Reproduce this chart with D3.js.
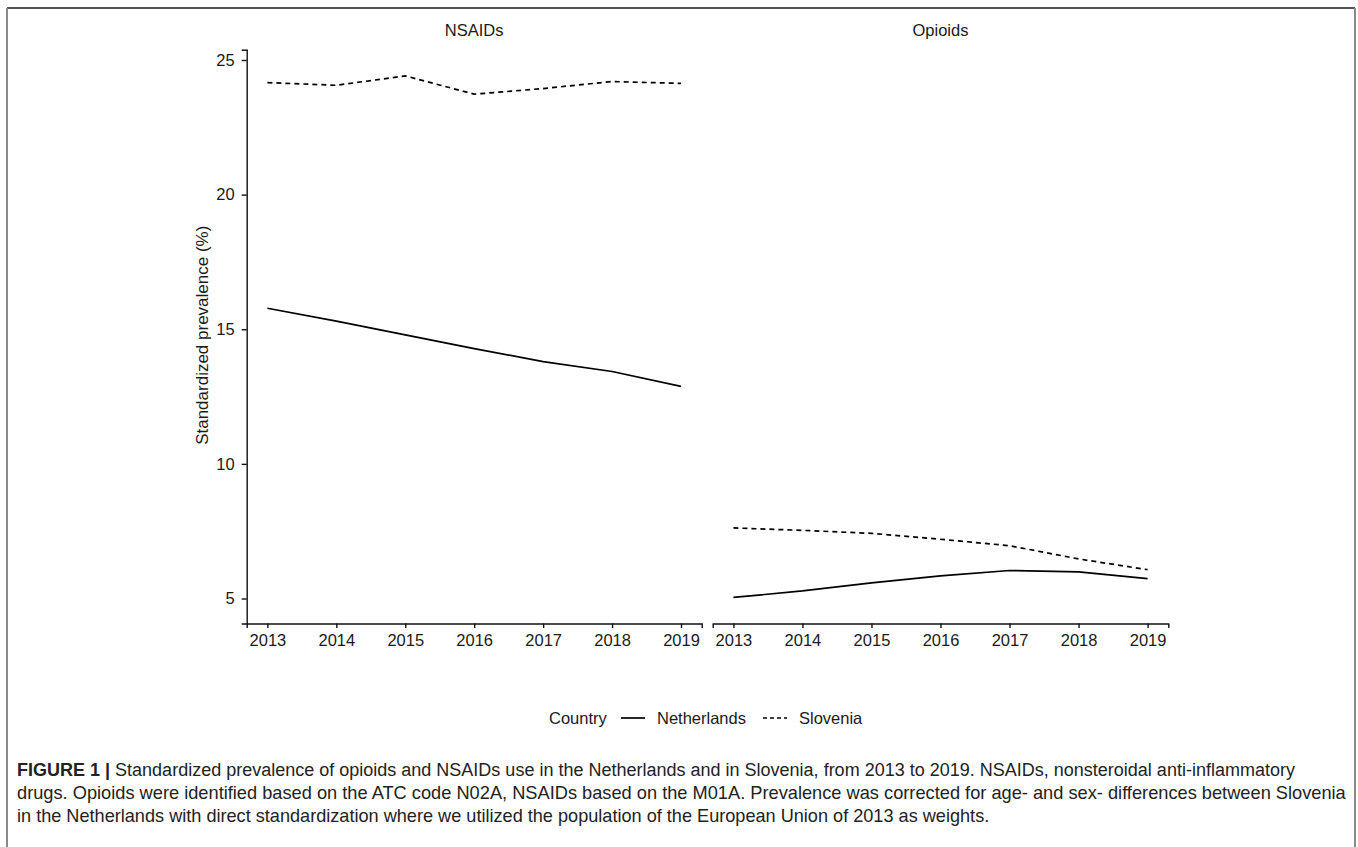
<!DOCTYPE html>
<html>
<head>
<meta charset="utf-8">
<script src="https://cdn.jsdelivr.net/npm/d3@7"></script>
<style>
  html, body { margin: 0; padding: 0; background: #fff; }
  svg { display: block; }
  text { font-family: "Liberation Sans", Arial, Helvetica, sans-serif; fill: #1a1a1a; }
  .cap { font-family: "Liberation Sans", Arial, sans-serif; fill: #222; }
</style>
</head>
<body>
<script>
// ---- data ----
const years = [2013, 2014, 2015, 2016, 2017, 2018, 2019];
const panels = ["NSAIDs", "Opioids"];
const countries = ["Netherlands", "Slovenia"];
const nsaidNetherlands = [15.78, 15.30, 14.79, 14.28, 13.80, 13.43, 12.88];
const nsaidSlovenia    = [24.16, 24.06, 24.41, 23.73, 23.94, 24.20, 24.13];
const opioidNetherlands = [5.04, 5.28, 5.58, 5.84, 6.04, 5.99, 5.74];
const opioidSlovenia    = [7.62, 7.53, 7.42, 7.20, 6.96, 6.47, 6.07];
const yTicks = [5, 10, 15, 20, 25];
const yTitle = "Standardized prevalence (%)";
const legendTitle = "Country";
const captionBold = "FIGURE 1 | ";
const captionLines = [
  "Standardized prevalence of opioids and NSAIDs use in the Netherlands and in Slovenia, from 2013 to 2019. NSAIDs, nonsteroidal anti-inflammatory",
  "drugs. Opioids were identified based on the ATC code N02A, NSAIDs based on the M01A. Prevalence was corrected for age- and sex- differences between Slovenia",
  "in the Netherlands with direct standardization where we utilized the population of the European Union of 2013 as weights."
];

const seriesByPanel = {
  "NSAIDs": { "Netherlands": nsaidNetherlands, "Slovenia": nsaidSlovenia },
  "Opioids": { "Netherlands": opioidNetherlands, "Slovenia": opioidSlovenia }
};

const W = 1358, H = 847;
const svg = d3.select("body").append("svg").attr("width", W).attr("height", H);

// outer frame
svg.append("line").attr("x1", 7).attr("x2", 1355).attr("y1", 8).attr("y2", 8)
  .attr("stroke", "#555").attr("stroke-width", 2);
svg.append("line").attr("x1", 7).attr("x2", 7).attr("y1", 8).attr("y2", H)
  .attr("stroke", "#8a8a8a").attr("stroke-width", 2);
svg.append("line").attr("x1", 1355).attr("x2", 1355).attr("y1", 8).attr("y2", H)
  .attr("stroke", "#8a8a8a").attr("stroke-width", 2);

// y scale with ggplot-like 5% expansion
const allVals = [].concat(nsaidNetherlands, nsaidSlovenia, opioidNetherlands, opioidSlovenia);
const yMin = d3.min(allVals), yMax = d3.max(allVals);
const pad = (yMax - yMin) * 0.05;
const y = d3.scaleLinear().domain([yMin - pad, yMax + pad]).range([623.5, 49.8]);

const xPad = (d3.max(years) - d3.min(years)) * 0.05;
const panelRanges = [[246.7, 701.7], [712.7, 1168.3]];
const dashes = { "Netherlands": null, "Slovenia": "5,4" };

panels.forEach((p, i) => {
  const x = d3.scaleLinear().domain([d3.min(years) - xPad, d3.max(years) + xPad]).range(panelRanges[i]);
  const g = svg.append("g");

  // strip label
  g.append("text").attr("x", (panelRanges[i][0] + panelRanges[i][1]) / 2).attr("y", 36)
    .attr("text-anchor", "middle").style("font-size", "16.5px").text(p);

  // x axis
  const xa = g.append("g").attr("transform", `translate(0,${y.range()[0]})`)
    .call(d3.axisBottom(x).tickValues(years).tickFormat(d3.format("d")).tickSizeOuter(0).tickSize(4.5).tickPadding(6));
  xa.select(".domain").attr("stroke", "#111").attr("stroke-width", 1.4);
  xa.selectAll(".tick line").attr("stroke", "#111").attr("stroke-width", 1.4);
  xa.selectAll(".tick text").style("font-size", "16.5px").attr("fill", "#2a2a2a")
    .style("font-family", '"Liberation Sans", Arial, sans-serif');

  if (i === 0) {
    const ya = g.append("g").attr("transform", `translate(${panelRanges[0][0]},0)`)
      .call(d3.axisLeft(y).tickValues(yTicks).tickSizeOuter(0).tickSize(5).tickPadding(7));
    ya.select(".domain").attr("stroke", "#111").attr("stroke-width", 1.4);
    ya.selectAll(".tick line").attr("stroke", "#111").attr("stroke-width", 1.4);
    ya.selectAll(".tick text").style("font-size", "16.5px").attr("fill", "#2a2a2a")
      .style("font-family", '"Liberation Sans", Arial, sans-serif');
  }

  const line = d3.line().x((d, k) => x(years[k])).y(d => y(d));
  countries.forEach(c => {
    g.append("path").datum(seriesByPanel[p][c])
      .attr("d", line).attr("fill", "none").attr("stroke", "#000")
      .attr("stroke-width", 1.7)
      .attr("stroke-dasharray", dashes[c]);
  });
});

// y title
svg.append("text").attr("transform", `translate(208,${(y(25) + y(5)) / 2 + 6}) rotate(-90)`)
  .attr("text-anchor", "middle").style("font-size", "17px").text(yTitle);

// legend
const lg = svg.append("g");
const ly = 718;
lg.append("text").attr("x", 549).attr("y", ly).attr("dy", "0.35em").style("font-size", "16.5px").text(legendTitle);
const keyX = [621, 763];
const labX = [657, 799];
countries.forEach((c, k) => {
  lg.append("line").attr("x1", keyX[k]).attr("x2", keyX[k] + 24).attr("y1", ly).attr("y2", ly)
    .attr("stroke", "#000").attr("stroke-width", 1.7).attr("stroke-dasharray", dashes[c] ? "4,3" : null);
  lg.append("text").attr("x", labX[k]).attr("y", ly).attr("dy", "0.35em").style("font-size", "16.5px").text(c);
});

// caption (condensed by horizontal scale fitted to the reference line ends)
const capY = [776, 799, 822];
const capEnd = [1296, 1347, null];
const capNodes = captionLines.map((t, k) => {
  const tx = svg.append("text").attr("class", "cap").attr("x", 0).attr("y", capY[k]).style("font-size", "19px");
  if (k === 0) tx.append("tspan").style("font-weight", "bold").text(captionBold);
  tx.append("tspan").text(t);
  return tx;
});
const scales = capNodes.map((tx, k) => capEnd[k] ? (capEnd[k] - 17) / tx.node().getComputedTextLength() : null);
const avgS = (scales[0] + scales[1]) / 2;
capNodes.forEach((tx, k) => tx.attr("transform", `translate(17,0) scale(${scales[k] || avgS},1)`));
</script>
</body>
</html>
